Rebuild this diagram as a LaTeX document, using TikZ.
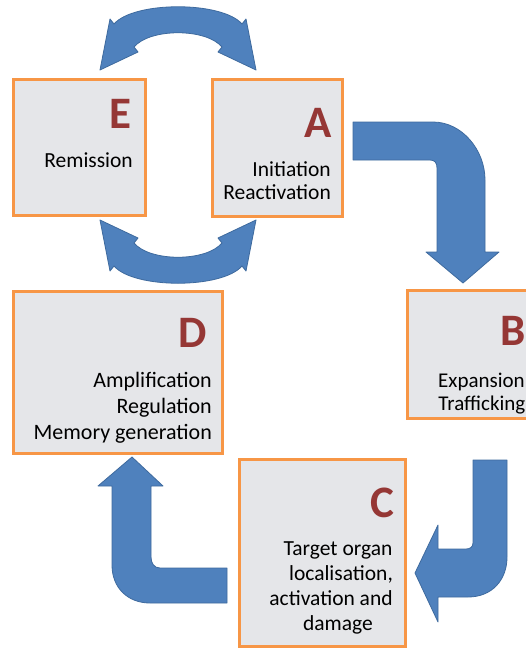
\documentclass[tikz,border=0pt]{standalone}
\usepackage{fontspec}
\setmainfont{Carlito}
\definecolor{boxorange}{HTML}{F79646}
\definecolor{boxgray}{HTML}{E5E6E9}
\definecolor{lettred}{HTML}{953735}
\definecolor{arrowblue}{HTML}{4F81BD}
\definecolor{arrowedge}{HTML}{3E6A9E}
\begin{document}
\begin{tikzpicture}[x=1pt,y=-1pt,
  box/.style={draw=boxorange, line width=3pt, fill=boxgray, inner sep=0pt, rectangle},
  letter/.style={font=\fontsize{45}{50}\selectfont\bfseries, text=lettred, inner sep=0pt, anchor=base east},
  lbl/.style={font=\fontsize{21.5}{25}\selectfont, inner sep=0pt, anchor=base east},
  clbl/.style={font=\fontsize{21.5}{25}\selectfont, inner sep=0pt, anchor=base},
  blockarrow/.style={fill=arrowblue, draw=arrowedge, line width=0.8pt, line join=round}]
\useasboundingbox (0,0) rectangle (526,648);
\clip (0,0) rectangle (526,648);
\fill[white] (0,0) rectangle (526,648);

% boxes
\node[box, minimum width=132pt, minimum height=136pt] (E) at (79,147) {};
\node[box, minimum width=130pt, minimum height=137pt] (A) at (277,147.5) {};
\node[box, minimum width=133pt, minimum height=128pt] (B) at (473.5,354) {};
\node[box, minimum width=209pt, minimum height=162pt] (D) at (117.5,372) {};
\node[box, minimum width=166pt, minimum height=187pt] (C) at (322,552.5) {};

% letters
\node[letter] (El) at (132,128) {E};
\node[letter] (Al) at (332,137) {A};
\node[letter] (Bl) at (526,345) {B};
\node[letter] (Dl) at (207,347) {D};
\node[letter] (Cl) at (395,517) {C};

% texts
\node[lbl] (Et1) at (133,167) {Remission};
\node[lbl] (At1) at (331,176) {Initiation};
\node[lbl] (At2) at (331,199) {Reactivation};
\node[lbl, font=\fontsize{21}{25}\selectfont] (Bt1) at (525,387) {Expansion};
\node[lbl, font=\fontsize{21}{25}\selectfont] (Bt2) at (525.5,410) {Trafficking};
\node[lbl, font=\fontsize{22}{25}\selectfont] (Dt1) at (212,387) {Amplification};
\node[lbl, font=\fontsize{22}{25}\selectfont] (Dt2) at (212,413) {Regulation};
\node[lbl, font=\fontsize{22}{25}\selectfont] (Dt3) at (212,439) {Memory generation};
\node[clbl] (Ct1) at (338,555) {Target organ};
\node[clbl] (Ct2) at (341,580) {localisation,};
\node[clbl] (Ct3) at (331,605) {activation and};
\node[clbl] (Ct4) at (338,630) {damage};

% A -> B
\draw[blockarrow] (353,122) -- (433,122) .. controls (462,122) and (485,150) .. (485,180)
  -- (485,252) -- (499,252) -- (463,283) -- (426,252) -- (437,252) -- (437,168)
  .. controls (437,163) and (435,160) .. (430,160) -- (353,160) -- cycle;

% B -> C
\draw[blockarrow] (473,460) -- (507,460) -- (507,557) .. controls (507,580) and (492,597) .. (468,597)
  -- (438,597) -- (438,622) -- (415,573) -- (438,525) -- (438,549) -- (466,549)
  .. controls (470,549) and (473,547) .. (473,543) -- cycle;

% C -> D
\draw[blockarrow] (227,568) -- (227,603) -- (150,603) .. controls (128,603) and (112,588) .. (112,565)
  -- (112,486) -- (98,486) -- (132,457) -- (163,486) -- (151,486) -- (151,557)
  .. controls (151,563) and (154,568) .. (160,568) -- cycle;

% top double arrow (E <-> A)
\draw[blockarrow] (100,70) -- (110,19) -- (114,24) .. controls (134,1) and (222,1) .. (242,24)
  -- (246,19) -- (256,70) -- (218,52) -- (222,47) .. controls (206,28) and (150,28) .. (134,47)
  -- (138,52) -- cycle;

% bottom double arrow (E <-> A)
\begin{scope}[yshift=-290pt, yscale=-1]
\draw[blockarrow] (100,70) -- (110,19) -- (114,24) .. controls (134,1) and (222,1) .. (242,24)
  -- (246,19) -- (256,70) -- (218,52) -- (222,47) .. controls (206,28) and (150,28) .. (134,47)
  -- (138,52) -- cycle;
\end{scope}
\end{tikzpicture}
\end{document}
